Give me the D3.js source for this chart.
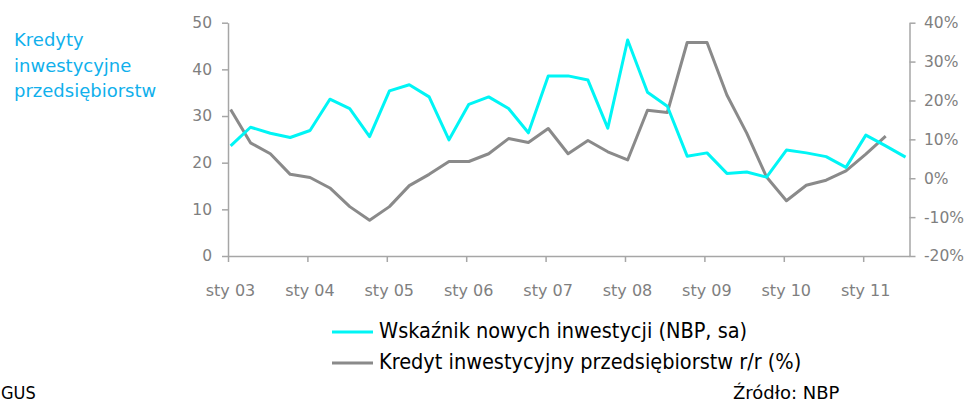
<!DOCTYPE html>
<html>
<head>
<meta charset="utf-8">
<script src="https://cdn.jsdelivr.net/npm/d3@7"></script>
<style>
  html, body { margin: 0; padding: 0; background: #fff; }
  svg { display: block; }
</style>
</head>
<body>
<svg id="chart" width="964" height="402"></svg>
<script>
// ---- data ----
const quarters = d3.range(35).map(i => ({ year: 2003 + Math.floor(i / 4), q: i % 4 + 1 }));
const investIndex = [23.6, 27.6, 26.3, 25.4, 26.9, 33.6, 31.6, 25.6, 35.4, 36.7, 34.1, 24.9,
  32.5, 34.1, 31.6, 26.4, 38.6, 38.6, 37.7, 27.4, 46.3, 35.1, 32.1, 21.4, 22.1, 17.7, 18.0,
  16.9, 22.7, 22.1, 21.3, 19.0, 25.9, 23.6, 21.2];
const creditYoY = [17.7, 9.1, 6.3, 1.0, 0.2, -2.5, -7.3, -10.8, -7.3, -1.9, 1.0, 4.3, 4.3,
  6.3, 10.2, 9.2, 12.8, 6.3, 9.7, 6.8, 4.7, 17.5, 16.9, 34.9, 34.9, 21.4, 11.6, 0.3, -5.8,
  -1.8, -0.5, 1.9, 6.2, 10.8];
const xTickYears = [2003, 2004, 2005, 2006, 2007, 2008, 2009, 2010, 2011];
const xTickLabels = ["sty 03", "sty 04", "sty 05", "sty 06", "sty 07", "sty 08", "sty 09", "sty 10", "sty 11"];
const leftTicks = [0, 10, 20, 30, 40, 50];
const rightTicks = [-20, -10, 0, 10, 20, 30, 40];
const titleLines = ["Kredyty", "inwestycyjne", "przedsiębiorstw"];
const legendLabels = ["Wskaźnik nowych inwestycji (NBP, sa)", "Kredyt inwestycyjny przedsiębiorstw r/r (%)"];
const sourceLeft = "GUS";
const sourceRight = "Źródło: NBP";

// ---- layout ----
const FONT = "'DejaVu Sans', sans-serif";
const cyan = "#00f5f5", grey = "#8a8a8a", axisCol = "#a6a6a6", labelCol = "#7f7f7f";
const svg = d3.select("#chart");

const monthOf = (y, m) => (y - 2003) * 12 + m;          // months since Jan 2003
const x = d3.scaleLinear().domain([0, 103]).range([228, 909.5]);
const qx = (d) => x(monthOf(d.year, (d.q - 1) * 3) + 0.4);
const yL = d3.scaleLinear().domain([0, 50]).range([256, 22.7]);
const yR = d3.scaleLinear().domain([-20, 40]).range([256, 22.7]);

function styleAxis(g, size) {
  g.select(".domain").attr("stroke", axisCol).attr("stroke-width", 1.5);
  g.selectAll(".tick line").attr("stroke", axisCol).attr("stroke-width", 1.5);
  g.selectAll("text").attr("fill", labelCol).attr("font-family", FONT).attr("font-size", size);
}

// left axis
svg.append("g").attr("transform", "translate(228,0)")
  .call(d3.axisLeft(yL).tickValues(leftTicks).tickSize(6).tickPadding(10).tickSizeOuter(0))
  .call(g => styleAxis(g, 15.5));

// right axis
svg.append("g").attr("transform", "translate(909.5,0)")
  .call(d3.axisRight(yR).tickValues(rightTicks).tickSize(6).tickPadding(8.5).tickSizeOuter(0)
    .tickFormat(d => d + "%"))
  .call(g => styleAxis(g, 15.5));

// bottom axis
svg.append("g").attr("transform", "translate(0,256)")
  .call(d3.axisBottom(x).tickValues(xTickYears.map(y => monthOf(y, 0))).tickSize(6).tickPadding(22.5)
    .tickSizeOuter(0).tickFormat((d, i) => xTickLabels[i]))
  .call(g => styleAxis(g, 16))
  .call(g => g.selectAll("text").attr("dx", 2));

// lines
const lineL = d3.line().x((d, i) => qx(quarters[i])).y(d => yL(d));
const lineR = d3.line().x((d, i) => qx(quarters[i])).y(d => yR(d));
svg.append("path").datum(creditYoY).attr("d", lineR)
  .attr("fill", "none").attr("stroke", grey).attr("stroke-width", 3).attr("stroke-linejoin", "round");
svg.append("path").datum(investIndex).attr("d", lineL)
  .attr("fill", "none").attr("stroke", cyan).attr("stroke-width", 3).attr("stroke-linejoin", "round");

// left title
svg.append("g").selectAll("text").data(titleLines).join("text")
  .attr("x", 14).attr("y", (d, i) => 46 + i * 25.7)
  .attr("font-family", FONT).attr("font-size", 18).attr("fill", "#10b0ec")
  .text(d => d);

// legend
const legColors = [cyan, grey];
const leg = svg.append("g").selectAll("g").data(legendLabels).join("g")
  .attr("transform", (d, i) => `translate(0,${332 + i * 31})`);
leg.append("line").attr("x1", 332).attr("x2", 373).attr("y1", 0).attr("y2", 0)
  .attr("stroke", (d, i) => legColors[i]).attr("stroke-width", 3);
leg.append("text").attr("x", 379).attr("y", 5.5)
  .attr("font-family", "'DejaVu Sans Condensed', 'DejaVu Sans', sans-serif")
  .attr("font-stretch", "condensed")
  .attr("font-size", 21.5).attr("fill", "#000").text(d => d);

// sources
svg.append("text").attr("x", 1).attr("y", 399)
  .attr("font-family", "'DejaVu Sans Condensed', 'DejaVu Sans', sans-serif")
  .attr("font-stretch", "condensed")
  .attr("font-size", 18).attr("fill", "#000").text(sourceLeft);
svg.append("text").attr("x", 733).attr("y", 399)
  .attr("font-family", FONT).attr("font-size", 18).attr("fill", "#000").text(sourceRight);
</script>
</body>
</html>
